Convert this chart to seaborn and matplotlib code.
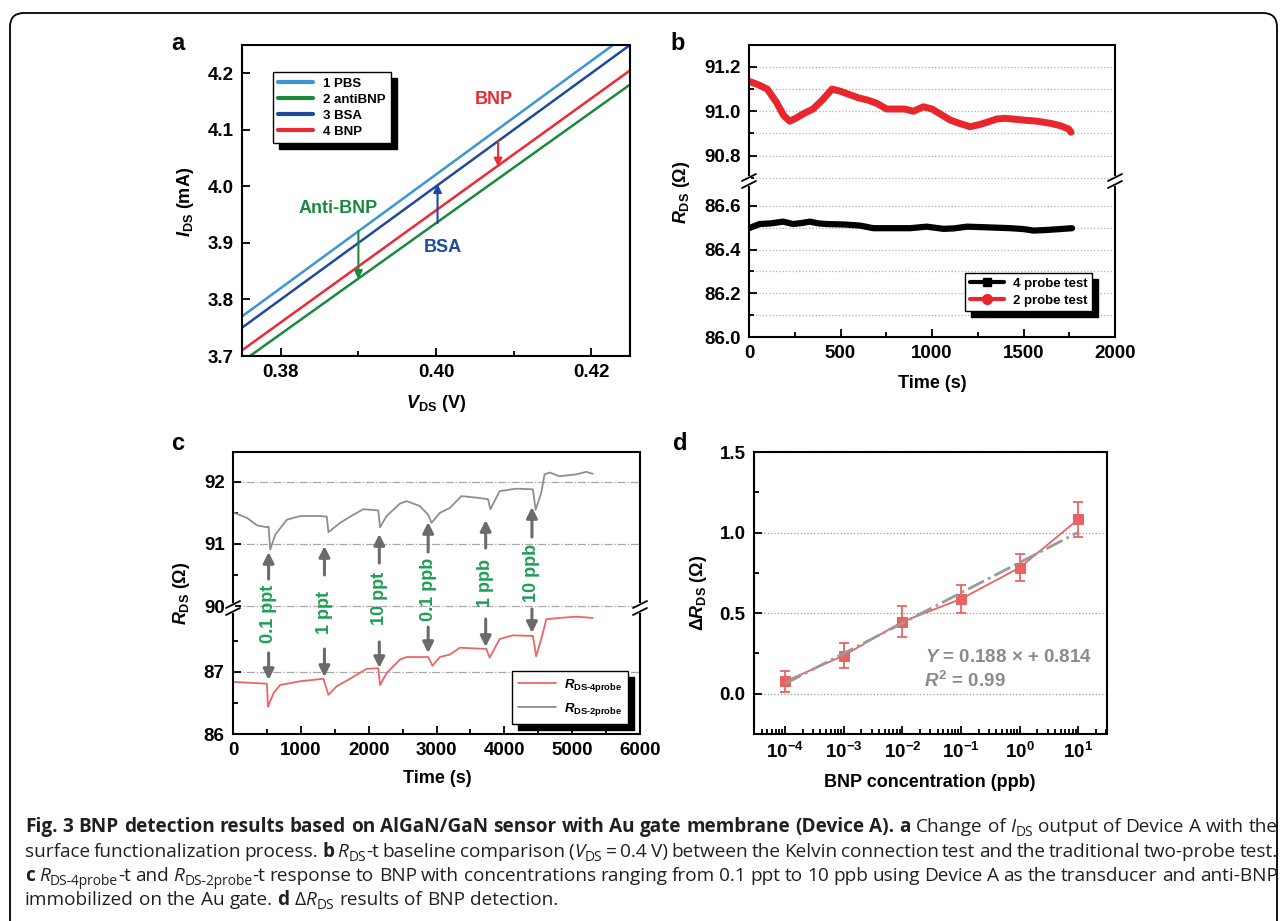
import matplotlib.pyplot as plt
import seaborn as sns
import pandas as pd
import numpy as np
from matplotlib.lines import Line2D
from matplotlib.patches import FancyBboxPatch
from matplotlib.transforms import IdentityTransform, blended_transform_factory
from matplotlib.ticker import MultipleLocator, FixedLocator

sns.set_style("ticks")
plt.rcParams['font.family'] = ['Liberation Sans', 'DejaVu Sans']
plt.rcParams['font.weight'] = 'bold'
plt.rcParams['mathtext.fontset'] = 'custom'
plt.rcParams['mathtext.rm'] = 'Liberation Sans:bold'
plt.rcParams['mathtext.it'] = 'Liberation Sans:italic:bold'
plt.rcParams['mathtext.bf'] = 'Liberation Sans:bold'
for k in ['text.color', 'axes.labelcolor', 'xtick.color', 'ytick.color', 'axes.edgecolor']:
    plt.rcParams[k] = 'black'

# ---- data ----
# a: I-V lines after each functionalisation step
vds = [0.375, 0.425]
steps_a = ['1 PBS', '2 antiBNP', '3 BSA', '4 BNP']
ids_pbs = [3.770, 4.272]
ids_anti = [3.690, 4.180]
ids_bsa = [3.750, 4.250]
ids_bnp = [3.710, 4.205]

# b: baseline, 4-probe vs 2-probe
t_4p = [0, 58, 120, 186, 241, 290, 332, 380, 423, 520, 606, 679, 750, 880, 971, 1062, 1120, 1190, 1300, 1427, 1500, 1555, 1628, 1700, 1765]
r_4p = [86.498, 86.517, 86.52, 86.528, 86.517, 86.522, 86.528, 86.52, 86.517, 86.515, 86.51, 86.498, 86.498, 86.498, 86.505, 86.495, 86.497, 86.505, 86.502, 86.498, 86.494, 86.487, 86.49, 86.494, 86.498]
t_2p = [0, 50, 100, 150, 190, 223, 260, 300, 350, 400, 454, 500, 550, 600, 650, 700, 752, 800, 850, 898, 953, 1000, 1050, 1100, 1150, 1208, 1260, 1300, 1354, 1400, 1500, 1573, 1650, 1700, 1746, 1760]
r_2p = [91.135, 91.12, 91.10, 91.04, 90.98, 90.955, 90.97, 90.99, 91.01, 91.05, 91.10, 91.09, 91.075, 91.06, 91.05, 91.035, 91.01, 91.01, 91.01, 91.0, 91.02, 91.01, 90.985, 90.96, 90.945, 90.93, 90.94, 90.95, 90.965, 90.968, 90.96, 90.955, 90.945, 90.935, 90.92, 90.905]

# c: response to BNP injections
t_c2 = [0, 206, 353, 500, 525, 549, 623, 794, 990, 1284, 1382, 1407, 1578, 1775, 1922, 2142, 2167, 2265, 2461, 2559, 2755, 2877, 2926, 3049, 3196, 3368, 3637, 3760, 3794, 3931, 4176, 4421, 4461, 4544, 4593, 4667, 4814, 5059, 5206, 5304]
r_c2 = [91.51, 91.42, 91.30, 91.27, 91.28, 90.91, 91.15, 91.39, 91.45, 91.45, 91.44, 91.19, 91.34, 91.47, 91.56, 91.54, 91.27, 91.45, 91.65, 91.69, 91.61, 91.47, 91.34, 91.50, 91.58, 91.77, 91.74, 91.72, 91.56, 91.85, 91.89, 91.88, 91.55, 91.82, 92.12, 92.15, 92.09, 92.12, 92.16, 92.13]
t_c4 = [0, 500, 515, 598, 696, 990, 1333, 1407, 1529, 1725, 1971, 2142, 2167, 2265, 2461, 2559, 2877, 2941, 3049, 3196, 3343, 3735, 3784, 3931, 4127, 4421, 4470, 4569, 4618, 4814, 5059, 5304]
r_c4 = [86.84, 86.81, 86.44, 86.66, 86.79, 86.85, 86.89, 86.63, 86.77, 86.89, 87.05, 87.06, 86.79, 86.98, 87.20, 87.24, 87.24, 87.10, 87.24, 87.28, 87.39, 87.37, 87.23, 87.53, 87.59, 87.58, 87.25, 87.63, 87.85, 87.87, 87.89, 87.87]
inj_t = [525, 1348, 2157, 2877, 3725, 4407]
inj_lbl = ['0.1 ppt', '1 ppt', '10 ppt', '0.1 ppb', '1 ppb', '10 ppb']

# d: calibration
conc = [1e-4, 1e-3, 1e-2, 1e-1, 1e0, 1e1]
dR = [0.076, 0.237, 0.447, 0.588, 0.782, 1.082]
dR_err = [0.068, 0.080, 0.098, 0.087, 0.083, 0.110]
fit_x = [1e-4, 1e1]
fit_y = [0.062, 1.002]

# ---- figure ----
W, H = 1281, 921
fig = plt.figure(figsize=(W / 100, H / 100), dpi=100)


def box(l, t, r, b):
    return [l / W, 1 - b / H, (r - l) / W, (b - t) / H]


def style(ax):
    for s in ax.spines.values():
        s.set_linewidth(1.5)
    ax.tick_params(which='both', direction='in', top=False, right=False, width=1.3,
                   labelsize=13.5, pad=6)
    ax.tick_params(which='major', length=6)
    ax.tick_params(which='minor', length=3.5)
    ax.set_xlabel('')
    ax.set_ylabel('')


def brk(xp, yp):
    y = H - yp
    idt = IdentityTransform()
    fig.add_artist(Line2D([xp, xp], [y - 3, y + 3], transform=idt, color='white', lw=3, zorder=20))
    for off in (-3.5, 3.5):
        fig.add_artist(Line2D([xp - 7, xp + 7], [y + off - 3.5, y + off + 3.5], transform=idt,
                              color='black', lw=1.3, zorder=21))


shadow = {'color': 'black', 'alpha': 1, 'ox': 4, 'oy': -4}

# ---- a ----
ax_a = fig.add_axes(box(242, 45, 630, 356))
df_a = pd.DataFrame({'V': vds * 4,
                     'I': ids_pbs + ids_anti + ids_bsa + ids_bnp,
                     'step': np.repeat(steps_a, 2)})
pal_a = {'1 PBS': '#3a97d4', '2 antiBNP': '#1b8a3e', '3 BSA': '#1f4a9c', '4 BNP': '#ec2a33'}
sns.lineplot(data=df_a, x='V', y='I', hue='step', hue_order=steps_a, palette=pal_a,
             lw=1.8, ax=ax_a, legend=False)
style(ax_a)
ax_a.set_xlim(0.375, 0.425)
ax_a.set_ylim(3.7, 4.25)
ax_a.xaxis.set_major_locator(FixedLocator([0.38, 0.40, 0.42]))
ax_a.xaxis.set_minor_locator(FixedLocator([0.39, 0.41]))
ax_a.set_xticklabels(['0.38', '0.40', '0.42'])
ax_a.set_yticks([3.7, 3.8, 3.9, 4.0, 4.1, 4.2])
handles = [Line2D([], [], color=pal_a[s], lw=3) for s in steps_a]
leg = ax_a.legend(handles, steps_a, loc='upper left', bbox_to_anchor=(273 / W, 1 - 72 / H),
                  bbox_transform=fig.transFigure, borderaxespad=0, fontsize=9.5,
                  handlelength=2.6, labelspacing=0.3, borderpad=0.4, handletextpad=0.8,
                  frameon=True, fancybox=False, framealpha=1, edgecolor='black', shadow=shadow)
leg.get_frame().set_linewidth(1.0)
arr_a = [(0.390, 3.921, 3.836, '#1b8a3e'), (0.4002, 3.935, 4.004, '#1f4a9c'), (0.408, 4.08, 4.035, '#ec2a33')]
for x, y0, y1, c in arr_a:
    ax_a.annotate('', xy=(x, y1), xytext=(x, y0),
                  arrowprops=dict(arrowstyle='-|>', color=c, lw=1.5, mutation_scale=12, shrinkA=0, shrinkB=0))
ax_a.text(0.3874, 3.96, 'Anti-BNP', color='#1b8a3e', fontsize=13, ha='center', va='center')
ax_a.text(0.4009, 3.891, 'BSA', color='#1f4a9c', fontsize=13, ha='center', va='center')
ax_a.text(0.4074, 4.153, 'BNP', color='#ec2a33', fontsize=13, ha='center', va='center')

# ---- b ----
ax_b1 = fig.add_axes(box(749, 45, 1115, 181))
ax_b2 = fig.add_axes(box(749, 181, 1115, 337))
sns.lineplot(x=t_2p, y=r_2p, ax=ax_b1, color='#e8262c', lw=5, solid_capstyle='round')
sns.lineplot(x=t_4p, y=r_4p, ax=ax_b2, color='black', lw=4.5, solid_capstyle='round')
for ax in (ax_b1, ax_b2):
    style(ax)
    ax.set_xlim(0, 2000)
    ax.grid(which='both', axis='y', ls=':', color='#b0b0b0', lw=0.9)
    ax.set_axisbelow(True)
ax_b1.set_ylim(90.685, 91.299)
ax_b1.yaxis.set_major_locator(FixedLocator([90.8, 91.0, 91.2]))
ax_b1.yaxis.set_minor_locator(FixedLocator([90.7, 90.9, 91.1]))
ax_b1.set_yticklabels(['90.8', '91.0', '91.2'])
ax_b1.tick_params(axis='x', which='both', bottom=False, labelbottom=False)
ax_b1.spines['bottom'].set_visible(False)
ax_b2.set_ylim(86.0, 86.714)
ax_b2.yaxis.set_major_locator(FixedLocator([86.0, 86.2, 86.4, 86.6]))
ax_b2.yaxis.set_minor_locator(FixedLocator([86.1, 86.3, 86.5]))
ax_b2.set_yticklabels(['86.0', '86.2', '86.4', '86.6'])
ax_b2.xaxis.set_major_locator(MultipleLocator(500))
ax_b2.xaxis.set_minor_locator(MultipleLocator(250))
ax_b2.spines['top'].set_visible(False)
hb = [Line2D([], [], color='black', lw=3, marker='s', ms=6),
      Line2D([], [], color='#e8262c', lw=3, marker='o', ms=7)]
leg = ax_b2.legend(hb, ['4 probe test', '2 probe test'], loc='upper left',
                   bbox_to_anchor=(965 / W, 1 - 273 / H), bbox_transform=fig.transFigure,
                   borderaxespad=0, fontsize=9.5, handlelength=2.6, labelspacing=0.35,
                   borderpad=0.35, handletextpad=0.7, frameon=True, fancybox=False,
                   framealpha=1, edgecolor='black', shadow=shadow)
leg.get_frame().set_linewidth(1.0)
brk(749, 181)
brk(1115, 181)

# ---- c ----
ax_c1 = fig.add_axes(box(233, 452, 640, 608))
ax_c2 = fig.add_axes(box(233, 608, 640, 734))
sns.lineplot(x=t_c2, y=r_c2, ax=ax_c1, color='#8e8e8e', lw=1.3)
sns.lineplot(x=t_c4, y=r_c4, ax=ax_c2, color='#f06464', lw=1.3)
for ax in (ax_c1, ax_c2):
    style(ax)
    ax.set_xlim(0, 6000)
    ax.grid(which='major', axis='y', ls='-.', color='#a8a8a8', lw=0.9)
    ax.set_axisbelow(True)
ax_c1.set_ylim(89.97, 92.48)
ax_c1.yaxis.set_major_locator(FixedLocator([90, 91, 92]))
ax_c1.yaxis.set_minor_locator(FixedLocator([90.5, 91.5]))
ax_c1.tick_params(axis='x', which='both', bottom=False, labelbottom=False)
ax_c1.spines['bottom'].set_visible(False)
ax_c2.set_ylim(86, 88.03)
ax_c2.yaxis.set_major_locator(FixedLocator([86, 87]))
ax_c2.yaxis.set_minor_locator(FixedLocator([86.5, 87.5]))
ax_c2.xaxis.set_major_locator(MultipleLocator(1000))
ax_c2.xaxis.set_minor_locator(MultipleLocator(500))
ax_c2.spines['top'].set_visible(False)
brk(233, 608)
brk(640, 608)

arrow_up = [(579, 552), (575, 546), (563, 534), (552, 522), (548, 520), (537, 507)]
text_y = [614, 612, 598, 589, 583, 573]
arrow_dn = [(653, 680), (649, 677), (642, 668), (627, 653), (619, 647), (609, 633)]
tr = blended_transform_factory(ax_c2.transData, IdentityTransform())
for t, lbl, (u0, u1), ty, (d0, d1) in zip(inj_t, inj_lbl, arrow_up, text_y, arrow_dn):
    for a0, a1 in ((u0, u1), (d0, d1)):
        ax_c2.annotate('', xy=(t, H - a1), xytext=(t, H - a0), xycoords=tr, textcoords=tr,
                       annotation_clip=False,
                       arrowprops=dict(arrowstyle='-|>', color='#6b6b6b', lw=2.2,
                                       mutation_scale=16, shrinkA=0, shrinkB=0))
    ax_c2.text(t, H - ty, lbl, transform=tr, rotation=90, ha='center', va='center',
               color='#1f9e55', fontsize=13, clip_on=False)
hc = [Line2D([], [], color='#f06464', lw=1.3), Line2D([], [], color='#8e8e8e', lw=1.3)]
leg = ax_c2.legend(hc, [r'$R_{\rm DS\text{-}4probe}$', r'$R_{\rm DS\text{-}2probe}$'], loc='upper left',
                   bbox_to_anchor=(512 / W, 1 - 671 / H), bbox_transform=fig.transFigure,
                   borderaxespad=0, fontsize=9.5, handlelength=2.9, labelspacing=0.55,
                   borderpad=0.45, handletextpad=0.6, frameon=True, fancybox=False,
                   framealpha=1, edgecolor='black', shadow=shadow)
leg.get_frame().set_linewidth(1.0)

# ---- d ----
ax_d = fig.add_axes(box(754, 452, 1107, 734))
ax_d.set_xscale('log')
red_d = '#e86464'
ax_d.errorbar(conc, dR, yerr=dR_err, fmt='none', ecolor=red_d, elinewidth=1.3, capsize=3.5,
              capthick=1.3, zorder=3)
sns.lineplot(x=conc, y=dR, ax=ax_d, color=red_d, lw=1.3, marker='s', markersize=7,
             markeredgecolor=red_d, zorder=4)
sns.lineplot(x=fit_x, y=fit_y, ax=ax_d, color='#9a9a9a', lw=2, linestyle='-.', zorder=5)
style(ax_d)
ax_d.set_xlim(10 ** -4.53, 10 ** 1.49)
ax_d.set_ylim(-0.25, 1.5)
ax_d.set_xticks(conc)
ax_d.set_xticklabels([r'$10^{-4}$', r'$10^{-3}$', r'$10^{-2}$', r'$10^{-1}$', r'$10^{0}$', r'$10^{1}$'])
ax_d.yaxis.set_major_locator(FixedLocator([0.0, 0.5, 1.0, 1.5]))
ax_d.yaxis.set_minor_locator(MultipleLocator(0.25))
ax_d.set_yticklabels(['0.0', '0.5', '1.0', '1.5'])
ax_d.grid(which='major', axis='y', ls=':', color='#9a9a9a', lw=0.9)
ax_d.set_axisbelow(True)
ax_d.text(0.0243, 0.227, r'$Y$ = 0.188 × + 0.814', color='#8a8a8a', fontsize=13.5, va='center')
ax_d.text(0.0235, 0.08, r'$R^2$ = 0.99', color='#8a8a8a', fontsize=13.5, va='center')

# ---- labels ----
def ftext(x, y, s, **kw):
    fig.text(x / W, 1 - y / H, s, ha='center', va='center', **kw)


ftext(178, 43, 'a', fontsize=17)
ftext(678, 43, 'b', fontsize=17)
ftext(178, 443, 'c', fontsize=17)
ftext(680, 443, 'd', fontsize=17)
ftext(436, 403, r'$V_{\rm DS}$ (V)', fontsize=13)
ftext(185, 202, r'$I_{\rm DS}$ (mA)', fontsize=13, rotation=90)
ftext(932, 383, 'Time (s)', fontsize=13)
ftext(682, 192, r'$R_{\rm DS}$ (Ω)', fontsize=13, rotation=90)
ftext(437, 778, 'Time (s)', fontsize=13)
ftext(181, 593, r'$R_{\rm DS}$ (Ω)', fontsize=13, rotation=90)
ftext(930, 782, 'BNP concentration (ppb)', fontsize=13)
ftext(698, 593, r'$\Delta R_{\rm DS}$ (Ω)', fontsize=13, rotation=90)

# ---- caption ----
cap_lines = [
    [("Fig. 3 BNP detection results based on AlGaN/GaN sensor with Au gate membrane (Device A). a", 'b'),
     (" Change of ", 'r'), ("I", 'i'), ("DS", 's'), (" output of Device A with the", 'r')],
    [("surface functionalization process. ", 'r'), ("b", 'b'), (" ", 'r'), ("R", 'i'), ("DS", 's'),
     ("-t baseline comparison (", 'r'), ("V", 'i'), ("DS", 's'),
     (" = 0.4 V) between the Kelvin connection test and the traditional two-probe test.", 'r')],
    [("c", 'b'), (" ", 'r'), ("R", 'i'), ("DS-4probe", 's'), ("-t and ", 'r'), ("R", 'i'), ("DS-2probe", 's'),
     ("-t response to BNP with concentrations ranging from 0.1 ppt to 10 ppb using Device A as the transducer and anti-BNP", 'r')],
    [("immobilized on the Au gate. ", 'r'), ("d", 'b'), (" Δ", 'r'), ("R", 'i'), ("DS", 's'),
     (" results of BNP detection.", 'r')],
]
cap_y = [832, 857, 881, 905]
X0, X1 = 25, 1278
renderer = fig.canvas.get_renderer()


def make_chunks(pieces, size):
    chunks = []
    space = False
    for txt, st in pieces:
        for k, w in enumerate(txt.split(' ')):
            if k:
                space = True
            if w:
                chunks.append((w, st, space))
                space = False
    arts = []
    for w, st, sp in chunks:
        kw = dict(family=['Open Sans', 'DejaVu Sans'], size=size, color='#231f20',
                  weight='normal', va='baseline', transform=IdentityTransform())
        if st == 'b':
            kw['weight'] = 'bold'
        if st == 'i':
            kw['style'] = 'italic'
        if st == 's':
            kw['size'] = size * 0.72
        t = fig.text(0, 0, w, **kw)
        arts.append((t, st, sp, t.get_window_extent(renderer).width))
    return arts


def space_px(size):
    return size * 0.26 * 100 / 72


# pick the caption size so that the first line fills the width with natural spacing
trial = 12.0
arts = make_chunks(cap_lines[0], trial)
natural = sum(a[3] for a in arts) + sum(a[2] for a in arts) * space_px(trial)
for a in arts:
    a[0].remove()
cap_size = trial * (X1 - X0) / natural


def caption_line(pieces, yp, justify, size):
    arts = make_chunks(pieces, size)
    n_gap = sum(a[2] for a in arts)
    total = sum(a[3] for a in arts)
    gap = (X1 - X0 - total) / n_gap if justify else space_px(size)
    x = X0
    for t, st, sp, wd in arts:
        if sp:
            x += gap
        t.set_position((x, H - yp - (4 if st == 's' else 0)))
        x += wd


for i, (pieces, yp) in enumerate(zip(cap_lines, cap_y)):
    caption_line(pieces, yp, justify=(i < 3), size=cap_size)

fig.add_artist(FancyBboxPatch((10, -30), 1267, H - 13 + 30, boxstyle='round,pad=0,rounding_size=14',
                              transform=IdentityTransform(), fill=False, ec='black', lw=1.3))

fig.savefig('out.png', dpi=100)
